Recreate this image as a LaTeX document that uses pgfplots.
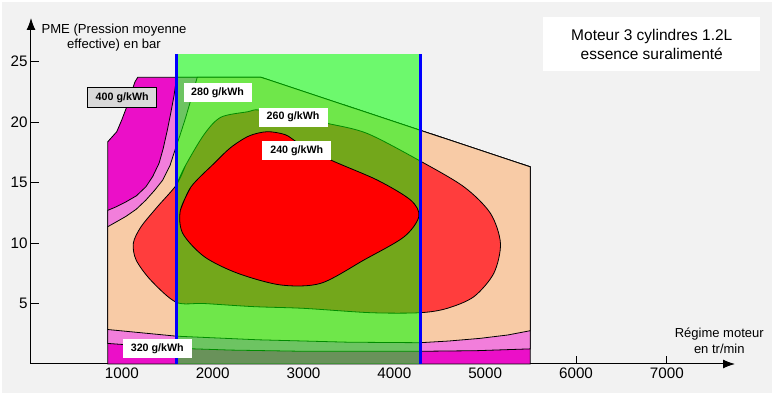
\documentclass[border=0pt]{standalone}
\usepackage{pgfplots}
\pgfplotsset{compat=1.18}
\usepackage{fontspec}
\setmainfont{Liberation Sans}
\usetikzlibrary{arrows.meta}
\definecolor{bgcol}{HTML}{F2F2F2}
\definecolor{cmag}{HTML}{EB0FC8}
\definecolor{cpink}{HTML}{F27EDB}
\definecolor{cbeige}{HTML}{F8CBA6}
\definecolor{clred}{HTML}{FF3D3D}
\definecolor{cred}{HTML}{FF0000}
\definecolor{cgray}{HTML}{D9D9D9}
\begin{document}
\begin{tikzpicture}[x=1pt,y=1pt]
\fill[white] (0,0) rectangle (774,396);
\fill[bgcol] (2,3) rectangle (772,394);
\begin{axis}[
  at={(31pt,32pt)}, anchor=south west,
  scale only axis, width=704pt, height=346pt,
  xmin=0, xmax=7750, ymin=0, ymax=28.6,
  axis x line=bottom, axis y line=left,
  axis line style={line width=1pt, -{Latex[length=12pt,width=9pt]}},
  xtick={1000,2000,...,7000}, ytick={5,10,...,25},
  tick align=inside, major tick length=8pt, tick style={line width=1pt, black},
  /pgf/number format/assume math mode=true,
  /pgf/number format/1000 sep={},
  tick label style={font=\fontsize{15.2}{18}\selectfont},
  clip=false,
]
% envelope (400 region, magenta)
\addplot[fill=cmag, draw=black, line width=0.8pt] coordinates {
 (845,0) (845,18.37) (944,19.2) (999,20.17) (1054,21.26) (1101,22.37) (1145,23.33) (1175,23.7)
 (2530,23.7) (5495,16.3) (5495,0)} -- cycle;
% inside 400 contour (pink)
\addplot[fill=cpink, draw=black, line width=0.8pt] coordinates {
 (1605,23.7)(2530,23.7)(5495,16.3)(5495,1.25)
 (4900,1.1)(4285,1.05)(3000,1.05)(2200,1.15)(1600,1.3)(845,1.7)(845,12.7)
 (940,13.0)(1045,13.4)(1160,13.9)(1265,14.65)(1340,15.5)(1410,16.6)(1455,17.8)(1500,19.3)
 (1540,20.8)(1575,22.2)(1590,23.0)} -- cycle;
% inside 320 contour (beige)
\addplot[fill=cbeige, draw=black, line width=0.8pt] coordinates {
 (1830,23.7)(2530,23.7)(5495,16.3)(5495,2.75)
 (5250,2.4)(4945,2.12)(4600,1.9)(4285,1.76)(3500,1.8)(2500,2.0)(1600,2.3)(845,2.85)(845,11.35)
 (940,11.75)(1045,12.2)(1160,12.8)(1265,13.55)(1360,14.35)(1450,15.2)(1530,16.4)(1590,17.8)
 (1640,18.9)(1700,20.3)(1770,22.1)} -- cycle;
% 260 contour (light red)
\addplot[fill=clred, draw=black, line width=0.8pt, smooth] coordinates {
 (1600,14.8)(1700,16.4)(1908,19.0)(2091,20.4)(2385,20.85)(2509,21.0)(2880,20.5)(3256,19.9)
 (3697,19.07)(4265,16.86)(4765,14.65)(5058,12.45)(5168,9.97)(5095,7.5)(4875,5.56)(4582,4.6)
 (4285,4.24)(3740,4.24)(3003,4.6)(2454,4.74)(1904,5.0)(1600,5.1)(1322,6.9)(1157,8.6)
 (1127,10.0)(1212,11.35)(1392,13.0)(1600,14.8)(1700,16.4)};
% green window overlay
\addplot[fill=green, fill opacity=0.55, draw=none] coordinates {
 (1600,0)(4285,0)(4285,25.6)(1600,25.6)} -- cycle;
% 240 core
\addplot[fill=cred, draw=black, line width=0.8pt, smooth] coordinates {
 (1644,12.7)(1762,14.65)(2018,16.6)(2200,17.9)(2400,18.85)(2600,19.2)(2800,18.95)(2950,18.24)
 (3300,16.86)(3813,15.2)(4179,13.55)(4270,12.2)(4105,10.5)(3666,8.6)(3190,6.67)(2751,6.53)
 (2275,7.5)(1908,8.87)(1670,10.8)(1644,12.7)(1762,14.65)};
% blue limits
\addplot[blue, line width=3pt] coordinates {(1600,0)(1600,25.6)};
\addplot[blue, line width=3pt] coordinates {(4285,0)(4285,25.6)};
% labels
\node[fill=cgray, draw=black, line width=0.6pt, font=\bfseries\fontsize{10.7}{12}\selectfont, minimum width=69pt, minimum height=20pt, inner sep=0pt] at (axis cs:1004,22.04) {400 g/kWh};
\node[fill=white, font=\bfseries\fontsize{10.7}{12}\selectfont, minimum width=68pt, minimum height=18.5pt, inner sep=0pt] at (axis cs:2054,22.44) {280 g/kWh};
\node[fill=white, font=\bfseries\fontsize{10.7}{12}\selectfont, minimum width=69pt, minimum height=19pt, inner sep=0pt] at (axis cs:2885,20.41) {260 g/kWh};
\node[fill=white, font=\bfseries\fontsize{10.7}{12}\selectfont, minimum width=69pt, minimum height=19pt, inner sep=0pt] at (axis cs:2926,17.66) {240 g/kWh};
\node[fill=white, font=\bfseries\fontsize{10.7}{12}\selectfont, minimum width=69pt, minimum height=19pt, inner sep=0pt] at (axis cs:1390,1.26) {320 g/kWh};
\node[fill=white, align=center, minimum width=217pt, minimum height=54pt, inner sep=0pt, font=\fontsize{15.5}{19}\selectfont] at (axis cs:6834,26.45) {Moteur 3 cylindres 1.2L\\essence suralimenté};
\node[align=center, inner sep=0pt, font=\fontsize{13.1}{15}\selectfont] at (axis cs:914,27.0) {PME (Pression moyenne\\effective) en bar};
\node[align=center, inner sep=0pt, font=\fontsize{13}{16}\selectfont] at (axis cs:7577,1.9) {Régime moteur\\en tr/min};
\end{axis}
\end{tikzpicture}
\end{document}
